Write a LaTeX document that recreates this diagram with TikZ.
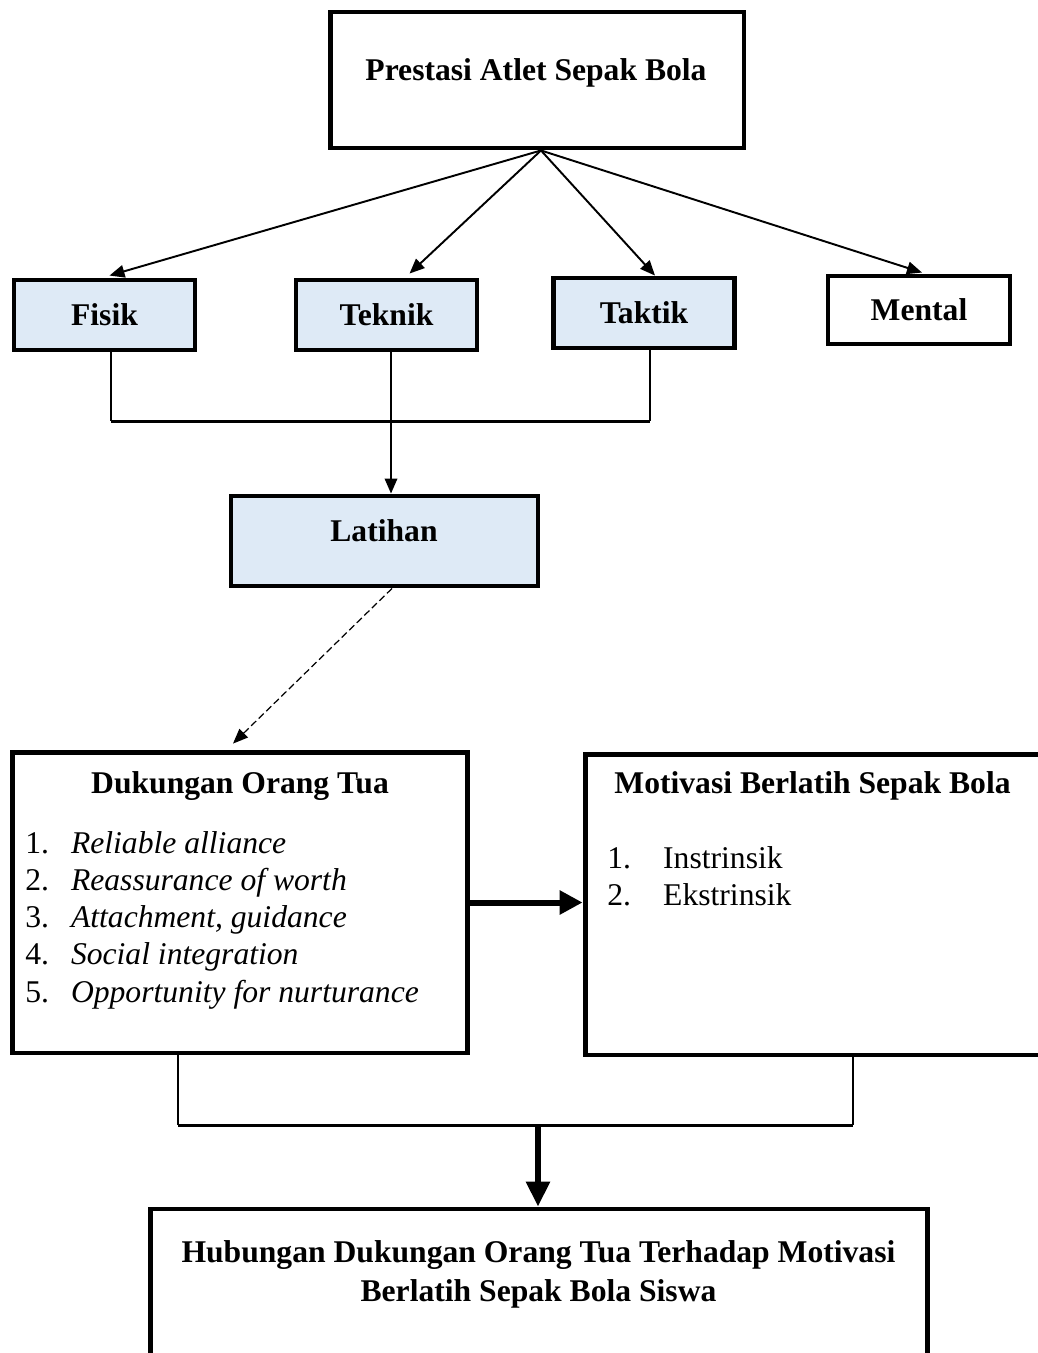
\documentclass[tikz,border=0pt]{standalone}
\usepackage{fontspec}
\setmainfont{Liberation Serif}
\usetikzlibrary{arrows.meta,calc}
\definecolor{boxblue}{RGB}{222,234,246}
\newcommand{\diagfont}{\fontsize{18}{21.2}\selectfont}
\tikzset{
  frame/.style={draw, line width=2.8pt, inner sep=0pt},
  smallbox/.style={frame, font=\diagfont\bfseries, minimum width=3.62cm, minimum height=1.4cm},
  bluebox/.style={smallbox, fill=boxblue},
  label/.style={inner sep=0pt, font=\diagfont},
  thinline/.style={line width=0.85pt},
  joinline/.style={line width=1.7pt},
  arr/.style={line width=1.1pt, -{Triangle[length=0.3cm,width=0.25cm]}},
  dasharr/.style={line width=0.7pt, dash pattern=on 4pt off 2pt, -{Triangle[length=0.3cm,width=0.24cm]}},
  bigarr/.style={line width=3.4pt, -{Triangle[length=0.46cm,width=0.46cm]}}
}

\begin{document}
\begin{tikzpicture}[x=0.02cm, y=-0.02cm]
\useasboundingbox (0,0) rectangle (1038,1353);
\clip (0,0) rectangle (1038,1353);

% top
\node[frame, minimum width=8.28cm, minimum height=2.72cm] (prestasi) at (537,80) {};
\node[label, font=\diagfont\bfseries, anchor=base] (prestasitext) at (536,80) {Prestasi Atlet Sepak Bola};

\node[bluebox] (fisik) at (104.5,315) {Fisik};
\node[bluebox] (teknik) at (386.5,315) {Teknik};
\node[bluebox] (taktik) at (644,313) {Taktik};
\node[smallbox, fill=white, minimum width=3.64cm, minimum height=1.36cm] (mental) at (919,310) {Mental};

\coordinate (fork) at ($(prestasi.south)+(4,0)$);
\draw[arr] (fork) -- ($(fisik.north)+(5,-2)$);
\draw[arr] (fork) -- ($(teknik.north)+(23,-4)$);
\draw[arr] (fork) -- ($(taktik.north)+(11,0)$);
\draw[arr] (fork) -- ($(mental.north)+(3,-1)$);

% latihan
\node[frame, fill=boxblue, minimum width=6.14cm, minimum height=1.8cm] (latihan) at (384.5,541) {};
\node[label, font=\diagfont\bfseries, anchor=base] (latihantext) at (384,541) {Latihan};

\coordinate (joinL) at (111,421);
\coordinate (joinR) at (650,421);
\coordinate (teknikx) at (391,0);
\draw[thinline] (fisik.south -| joinL) -- (joinL);
\draw[thinline] (taktik.south -| joinR) -- (joinR);
\draw[joinline] (joinL) -- (joinR);
\draw[arr] (teknik.south -| teknikx) -- (latihan.north -| teknikx);

% dukungan dan motivasi
\node[frame, fill=white, minimum width=9.12cm, minimum height=6.02cm] (dukungan) at (240,902.5) {};
\node[frame, fill=white, minimum width=9.2cm, minimum height=6.02cm] (motivasi) at (815,904.5) {};

\coordinate (latihanx) at (392,0);
\draw[dasharr] (latihan.south -| latihanx) -- ($(dukungan.north)+(-7,-6)$);

\node[label, font=\diagfont\bfseries, anchor=base] (dukungantitle) at (240,793) {Dukungan Orang Tua};
\node[label, anchor=base west] (dukunganlist) at (25,853) {%
  \begin{tabular}[t]{@{}p{26pt}@{}l@{}}
  1. & \textit{Reliable alliance}\\
  2. & \textit{Reassurance of worth}\\
  3. & \textit{Attachment, guidance}\\
  4. & \textit{Social integration}\\
  5. & \textit{Opportunity for nurturance}
  \end{tabular}};

\node[label, font=\diagfont\bfseries, anchor=base] (motivasititle) at (812.5,793) {Motivasi Berlatih Sepak Bola};
\node[label, anchor=base west] (motivasilist) at (607,868) {%
  \begin{tabular}[t]{@{}p{31.8pt}@{}l@{}}
  1. & Instrinsik\\
  2. & Ekstrinsik
  \end{tabular}};

\draw[bigarr] (dukungan.east) -- (dukungan.east -| motivasi.west);

% hubungan
\node[frame, fill=white, minimum width=15.56cm, minimum height=3.82cm] (hubungan) at (539,1304.5) {};
\node[label, font=\diagfont\bfseries, anchor=base] (hubungantext) at (538.5,1262) {%
  \begin{tabular}[t]{@{}c@{}}
  Hubungan Dukungan Orang Tua Terhadap Motivasi\\[1.5pt]
  Berlatih Sepak Bola Siswa
  \end{tabular}};

\coordinate (mergeL) at (178,1125);
\coordinate (mergeR) at (853,1125);
\coordinate (mergeM) at (538,1125);
\draw[thinline, line width=1.1pt] (dukungan.south -| mergeL) -- (mergeL);
\draw[thinline, line width=1.1pt] (motivasi.south -| mergeR) -- (mergeR);
\draw[joinline] (mergeL) -- (mergeR);
\draw[bigarr, -{Triangle[length=0.5cm,width=0.46cm]}] (mergeM) -- (hubungan.north -| mergeM);
\end{tikzpicture}
\end{document}
